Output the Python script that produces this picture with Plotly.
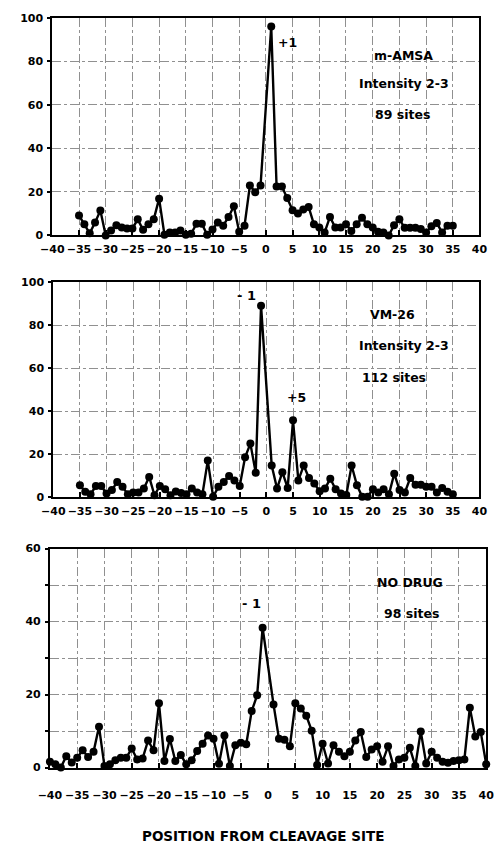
import plotly.graph_objects as go

# ---- data ----
pos_left35 = list(range(-35, 0))
pos_right35 = list(range(1, 36))
pos_left40 = list(range(-40, 0))
pos_right40 = list(range(1, 41))

amsa_left = [9.2, 5.1, 1.0, 5.9, 11.5, 0.0, 2.3, 4.7, 3.6, 3.2, 3.2, 7.4, 2.6, 5.1, 7.4, 16.9,
             0.3, 1.4, 1.4, 2.3, 0.3, 0.8, 5.4, 5.4, 0.3, 2.7, 6.0, 4.5, 8.5, 13.4, 1.7, 4.5,
             22.9, 19.9, 22.9]
amsa_right = [96.0, 22.5, 22.5, 17.2, 11.6, 10.1, 11.9, 13.1, 5.1, 3.6, 1.4, 8.5, 3.6, 3.6, 5.1,
              2.1, 5.1, 8.1, 5.1, 3.6, 1.7, 1.4, 0.0, 4.7, 7.4, 3.5, 3.5, 3.5, 3.0, 1.4, 4.2,
              5.7, 1.4, 4.5, 4.5]

vm_left = [5.6, 2.6, 1.5, 5.3, 5.3, 1.8, 3.4, 7.2, 4.9, 1.4, 2.3, 2.3, 4.1, 9.5, 1.0, 5.3,
           3.8, 1.0, 2.7, 2.0, 1.5, 4.1, 2.3, 1.5, 17.1, 0.3, 4.9, 7.2, 9.9, 7.9, 5.3, 18.6,
           25.0, 11.4, 89.1]
vm_right = [14.8, 4.1, 11.7, 4.4, 35.8, 7.9, 14.8, 9.0, 6.4, 2.9, 4.1, 8.7, 3.8, 1.8, 1.1,
            14.8, 5.6, 0.3, 0.3, 3.8, 2.3, 3.8, 1.4, 11.0, 3.4, 2.3, 9.0, 5.9, 5.9, 4.9, 4.9,
            2.3, 4.4, 2.6, 1.4]

nd_left = [1.6, 0.9, 0.0, 3.1, 1.4, 2.7, 4.7, 2.9, 4.3, 11.2, 0.4, 0.9, 2.0, 2.7, 2.7, 5.2,
           2.2, 2.5, 7.4, 4.7, 17.6, 1.8, 7.8, 1.8, 3.4, 0.9, 2.0, 4.5, 6.5, 8.8, 7.9, 1.0,
           8.8, 0.4, 6.1, 6.8, 6.4, 15.5, 19.8, 38.3]
nd_right = [17.3, 7.9, 7.6, 5.8, 17.6, 16.2, 14.2, 10.1, 0.7, 6.5, 1.1, 6.1, 4.3, 3.1, 4.3,
            7.4, 9.7, 2.9, 4.9, 5.8, 1.6, 5.8, 0.4, 2.2, 2.7, 5.4, 0.4, 9.9, 1.1, 4.3, 2.7,
            1.6, 1.3, 1.8, 2.0, 2.2, 16.4, 8.5, 9.7, 0.9]

x_ticks = list(range(-40, 41, 5))

W, H = 499, 852
FONT = "DejaVu Sans, Arial, Helvetica, sans-serif"

def px(x):
    return x / W

def py(y):
    return 1 - y / H

fig = go.Figure()

panels = [
    (pos_left35 + pos_right35, amsa_left + amsa_right, "x", "y"),
    (pos_left35 + pos_right35, vm_left + vm_right, "x2", "y2"),
    (pos_left40 + pos_right40, nd_left + nd_right, "x3", "y3"),
]
for xs, ys, xa, ya in panels:
    fig.add_trace(go.Scatter(
        x=xs, y=ys, xaxis=xa, yaxis=ya, mode="lines+markers",
        line=dict(color="black", width=2.4),
        marker=dict(color="black", size=8),
        showlegend=False, hoverinfo="skip", cliponaxis=False))

grid = dict(showgrid=True, gridcolor="#909090", gridwidth=1, griddash="dashdot")
axis_common = dict(showline=True, linecolor="black", linewidth=2, mirror=True,
                   zeroline=False, tickangle=0,
                   tickfont=dict(family=FONT, size=11, color="black", weight="bold"),
                   **grid)

def xaxis(domain, anchor, standoff):
    return dict(domain=domain, anchor=anchor, range=[-40, 40], tickvals=x_ticks,
                ticks="inside", ticklen=5, tickwidth=1.5, tickcolor="black",
                ticklabelstandoff=standoff, **axis_common)

def yaxis(domain, anchor, rng, vals, texts):
    return dict(domain=domain, anchor=anchor, range=rng, tickvals=vals, ticktext=texts,
                ticks="outside", ticklen=3, tickwidth=1.5, tickcolor="black",
                ticklabelstandoff=2, **axis_common)

fig.update_layout(
    width=W, height=H,
    margin=dict(l=0, r=0, t=0, b=0),
    paper_bgcolor="white", plot_bgcolor="white",
    xaxis=xaxis([px(42), px(487)], "y", 2),
    yaxis=yaxis([py(233), py(12)], "x", [0, 100], [0, 20, 40, 60, 80, 100],
                ["0", "20", "40", "60", "80", "100"]),
    xaxis2=xaxis([px(43), px(487)], "y2", 2),
    yaxis2=yaxis([py(499), py(280.5)], "x2", [0, 100], [0, 20, 40, 60, 80, 100],
                 ["0", "20", "40", "60", "80", "100"]),
    xaxis3=xaxis([px(39.5), px(494)], "y3", 16),
    yaxis3=yaxis([py(773.3), py(551)], "x3", [0, 60], [0, 10, 20, 30, 40, 50, 60],
                 ["0", "", "20", "", "40", "", "60"]),
)

def label(text, x, y, size=12.5):
    fig.add_annotation(text=text, x=px(x), y=py(y), xref="paper", yref="paper",
                       showarrow=False, xanchor="center", yanchor="middle",
                       font=dict(family=FONT, size=size, color="black", weight="bold"))

label("+1", 287, 37)
label("m-AMSA", 408, 50)
label("Intensity 2-3", 408, 79)
label("89 sites", 407, 110)

label("- 1", 244, 294, 13)
label("VM-26", 396, 313)
label("Intensity 2-3", 408, 345)
label("112 sites", 398, 377)
label("+5", 296, 398)

label("NO DRUG", 415, 585)
label("98 sites", 416, 617)
label("- 1", 250, 607, 13)

label("POSITION FROM CLEAVAGE SITE", 262, 843, 13.5)

fig.write_html("out.html")
